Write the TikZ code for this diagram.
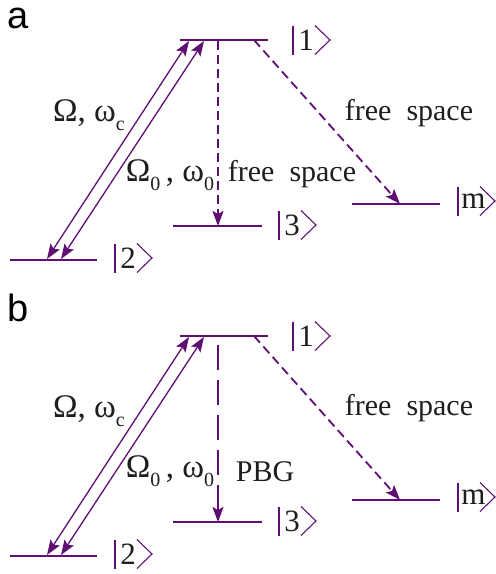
\documentclass[tikz,border=0pt]{standalone}
\usepackage{fontspec}
\setmainfont{Liberation Serif}
\newfontfamily\sansfam{Liberation Sans}
\usetikzlibrary{arrows.meta}
\definecolor{pur}{RGB}{95,15,115}
\definecolor{txt}{RGB}{30,30,30}
\tikzset{
  levelline/.style={draw=pur, line width=1.6pt},
  pump/.style={draw=pur, line width=1.3pt, {Stealth[length=15pt,width=11pt,inset=3pt,fill=pur]}-{Stealth[length=15pt,width=11pt,inset=3pt,fill=pur]}},
  decay/.style={draw=pur, line width=1.8pt, dash pattern=on 9pt off 5pt, -{Stealth[length=15pt,width=11pt,inset=3pt,fill=pur]}},
  pbgdecay/.style={draw=pur, line width=1.8pt, dash pattern=on 25pt off 10pt, -{Stealth[length=15pt,width=11pt,inset=3pt,fill=pur]}},
  ketline/.style={draw=pur, line width=1.1pt},
  ketnum/.style={inner sep=0pt, text=txt, font=\fontsize{31}{31}\selectfont},
  lab/.style={inner sep=0pt, text=txt, font=\fontsize{30}{30}\selectfont},
  glab/.style={inner sep=0pt, text=txt, font=\fontsize{33}{33}\selectfont},
  panellab/.style={inner sep=0pt, text=black, font=\sansfam\fontsize{38}{38}\selectfont},
}
\newcommand\ketlabel[5]{%
  \draw[ketline] (#2,#3-14.5) -- (#2,#3+14.5);
  \node[ketnum] (#1) at (#2+#5,#3) {#4};
  \draw[ketline] (#2+22,#3-14.5) -- (#2+37,#3) -- (#2+22,#3+14.5);}
\newcommand\subz[1]{\raisebox{-0.28em}{\fontsize{20}{20}\selectfont #1}}
\begin{document}
\begin{tikzpicture}[x=1pt,y=-1pt]
\useasboundingbox (0,0) rectangle (496,574);
% ---------------- panel a ----------------
\node[panellab] (pa) at (18,18) {a};
\coordinate (a1l) at (180,40); \coordinate (a1r) at (268,40);
\coordinate (a2l) at (10,260); \coordinate (a2r) at (97,260);
\coordinate (a3l) at (173,226); \coordinate (a3r) at (262,226);
\coordinate (aml) at (352,204); \coordinate (amr) at (440,204);
\draw[levelline] (a1l) -- (a1r);
\draw[levelline] (a2l) -- (a2r);
\draw[levelline] (a3l) -- (a3r);
\draw[levelline] (aml) -- (amr);
\coordinate (apb1) at (47,259); \coordinate (apt1) at (189,41);
\coordinate (apb2) at (61,259); \coordinate (apt2) at (204,41);
\draw[pump] (apb1) -- (apt1);
\draw[pump] (apb2) -- (apt2);
\coordinate (avs) at (218,41); \coordinate (ave) at (218,226);
\draw[decay] (avs) -- (ave);
\coordinate (ads) at (254,40); \coordinate (ade) at (400,204);
\draw[decay] (ads) -- (ade);
\ketlabel{ak1}{293}{40}{1}{13}
\ketlabel{ak2}{115}{258}{2}{13}
\ketlabel{ak3}{279}{225}{3}{13}
\ketlabel{akm}{458}{201}{m}{15.5}
\node[glab] (aomc) at (89,115) {Ω, ω\subz{c}};
\node[glab] (aomz) at (170,175) {Ω\subz{0}\,, ω\subz{0}};
\node[lab] (afs1) at (292,174) {free\ \ space};
\node[lab] (afs2) at (409,113) {free\ \ space};
% ---------------- panel b ----------------
\node[panellab] (pb) at (18,308) {b};
\coordinate (b1l) at (180,336); \coordinate (b1r) at (268,336);
\coordinate (b2l) at (10,556); \coordinate (b2r) at (97,556);
\coordinate (b3l) at (173,522); \coordinate (b3r) at (262,522);
\coordinate (bml) at (352,500); \coordinate (bmr) at (440,500);
\draw[levelline] (b1l) -- (b1r);
\draw[levelline] (b2l) -- (b2r);
\draw[levelline] (b3l) -- (b3r);
\draw[levelline] (bml) -- (bmr);
\coordinate (bpb1) at (47,555); \coordinate (bpt1) at (189,337);
\coordinate (bpb2) at (61,555); \coordinate (bpt2) at (204,337);
\draw[pump] (bpb1) -- (bpt1);
\draw[pump] (bpb2) -- (bpt2);
\coordinate (bvs) at (218,345); \coordinate (bve) at (218,522);
\draw[pbgdecay] (bvs) -- (bve);
\coordinate (bds) at (254,336); \coordinate (bde) at (400,500);
\draw[decay] (bds) -- (bde);
\ketlabel{bk1}{293}{336}{1}{13}
\ketlabel{bk2}{115}{554}{2}{13}
\ketlabel{bk3}{279}{521}{3}{13}
\ketlabel{bkm}{458}{497}{m}{15.5}
\node[glab] (bomc) at (89,411) {Ω, ω\subz{c}};
\node[glab] (bomz) at (170,471) {Ω\subz{0}\,, ω\subz{0}};
\node[lab] (bpbg) at (265,472) {PBG};
\node[lab] (bfs2) at (409,408) {free\ \ space};
\end{tikzpicture}
\end{document}
